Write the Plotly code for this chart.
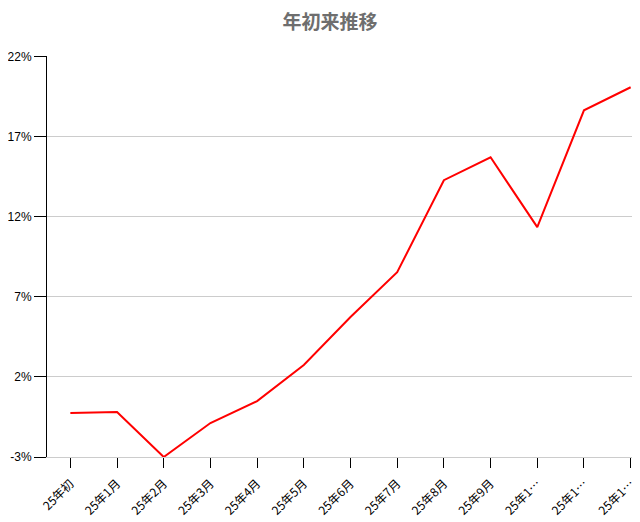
import plotly.graph_objects as go

# 年初来推移（%）
meses = ["25年初", "25年1月", "25年2月", "25年3月", "25年4月", "25年5月", "25年6月",
         "25年7月", "25年8月", "25年9月", "25年10月", "25年11月", "25年12月"]
etiquetas = ["25年初", "25年1月", "25年2月", "25年3月", "25年4月", "25年5月", "25年6月",
             "25年7月", "25年8月", "25年9月", "25年1…", "25年1…", "25年1…"]
rendimiento = [-0.26, -0.2, -3.0, -0.88, 0.49, 2.74, 5.73, 8.53, 14.27, 15.7, 11.34, 18.63, 20.07]
ticks_y = [-3, 2, 7, 12, 17, 22]

_FONT = "Liberation Sans, Arial, Noto Sans CJK JP, sans-serif"

fig = go.Figure(
    go.Scatter(
        x=meses, y=rendimiento, mode="lines",
        line=dict(color="#ff0000", width=2),
        hoverinfo="x+y",
    )
)

# La página tiene 8px de margen en el body: la figura se dibuja desplazada.
fig.update_layout(
    width=632, height=514,
    paper_bgcolor="white", plot_bgcolor="white",
    showlegend=False,
    font=dict(family=_FONT, color="#000000", size=12),
    title=dict(
        text="<b>年初来推移</b>",
        font=dict(family="Noto Sans CJK JP, sans-serif", size=19, color="#6e6e6e"),
        x=0.5095, xanchor="center", y=0.972, yanchor="middle",
    ),
    margin=dict(l=39, r=0, t=48, b=65),
)
fig.update_xaxes(
    type="category",
    range=[-0.5, 12.2],
    tickmode="array", tickvals=meses, ticktext=etiquetas,
    tickangle=-45,
    ticks="outside", ticklen=10, tickcolor="#000000",
    ticklabelstandoff=4,
    showline=True, linecolor="#cccccc", linewidth=1,
    showgrid=False, automargin=False,
    tickfont=dict(family="Noto Sans CJK JP, sans-serif", size=12, color="#000000"),
)
fig.update_yaxes(
    range=[-3, 22.02],
    tickmode="array", tickvals=ticks_y,
    ticktext=[f"{v}%" for v in ticks_y],
    ticks="outside", ticklen=12, tickcolor="#000000",
    showline=True, linecolor="#000000", linewidth=1,
    showgrid=True, gridcolor="#cccccc", gridwidth=1,
    zeroline=False, automargin=False,
    tickfont=dict(size=12, color="#000000"),
)

fig.write_html("out.html")
